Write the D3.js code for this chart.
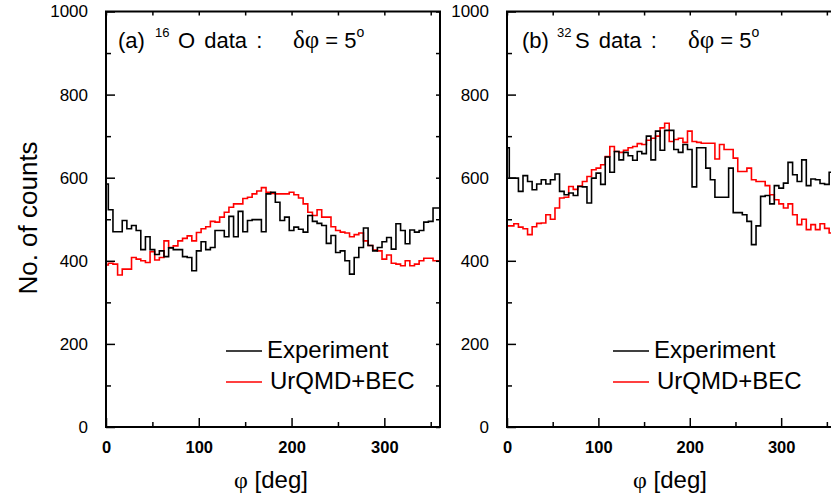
<!DOCTYPE html>
<html>
<head>
<meta charset="utf-8">
<script src="https://cdn.jsdelivr.net/npm/d3@7"></script>
<style>
	body { margin: 0; background: #fff; }
	svg text { font-family: "Liberation Sans", Arial, sans-serif; fill: #000; }
	.xlab { font-weight: bold; font-size: 16.5px; }
	.ylab { font-size: 17px; }
	.serif { font-family: "Liberation Serif", "Times New Roman", serif; }
</style>
</head>
<body>
<div id="chart"></div>
<script>
// azimuthal bins, 5 deg wide, centred on 0,5,...,360
const bin_width = 5;
const phi = d3.range(0, 360 + bin_width, bin_width);

// (a) 16O
const o16_exp = [585,523,470,470,497,477,485,473,427,458,
	427,415,424,410,431,427,427,410,408,376,
	424,446,427,432,473,473,458,507,458,519,
	470,497,499,499,470,561,565,541,497,505,
	473,481,476,469,509,495,490,485,442,461,
	420,424,400,368,408,432,479,437,424,432,
	446,456,428,489,473,441,474,469,473,493,
	495,527,527];
const o16_urqmd = [390,394,392,366,380,380,408,404,400,396,
	422,402,408,448,432,436,448,454,460,448,
	468,477,482,495,493,505,517,529,537,537,
	550,553,561,568,576,565,562,561,561,561,
	565,559,551,537,517,509,523,505,505,482,
	473,469,467,458,463,467,448,437,426,424,
	404,414,394,392,388,400,388,392,400,406,
	406,400,400];

// (b) 32S
const s32_exp = [672,599,599,567,605,591,571,585,595,585,
	595,609,567,559,563,557,579,578,539,599,
	611,584,650,613,663,643,661,653,642,663,
	658,700,643,712,666,714,714,668,661,680,
	668,578,672,672,623,595,553,553,553,623,
	516,516,511,495,439,484,555,557,537,581,
	575,587,637,607,591,643,581,597,595,586,
	584,613,613];
const s32_urqmd = [484,484,489,481,477,463,482,490,491,511,
	500,527,551,553,579,572,580,591,603,619,
	623,631,651,675,663,661,666,672,675,682,
	680,690,695,700,720,731,687,692,695,685,
	712,687,685,683,683,683,645,680,668,668,
	647,615,615,623,595,591,591,581,559,547,
	537,527,537,511,487,500,475,487,475,489,
	478,467,467];

const x_major = [0, 100, 200, 300];
const x_minor = [50, 150, 250, 350];
const y_major = [0, 200, 400, 600, 800, 1000];
const y_minor = [100, 300, 500, 700, 900];
const series_names = ["Experiment", "UrQMD+BEC"];

const c_exp = '#000000',
	c_urqmd = '#ff0000';

const width = 831, height = 503;
const top_y = 11.5, bottom_y = 427;

const panels = [
	{ id: "a", left: 106, right: 440, label: "(a)", nucl: "16", elem: "O", exp: o16_exp, model: o16_urqmd,
		tx: [118, 155, 178, 293], xt: 271, leg_x: 226 },
	{ id: "b", left: 507, right: 836, label: "(b)", nucl: "32", elem: "S", exp: s32_exp, model: s32_urqmd,
		tx: [522, 557, 575, 688], xt: 670, leg_x: 613 }
];

let svg = d3.select("#chart")
	.append("svg")
	.attr("width", width)
	.attr("height", height);

let y = d3.scaleLinear()
	.domain([0, 1000])
	.range([bottom_y, top_y]);

panels.forEach(p => {
	let x = d3.scaleLinear()
		.domain([0, 360])
		.range([p.left, p.right]);

	let g = svg.append("g").attr("id", "panel_" + p.id);

	g.append("clipPath")
		.attr("id", "clip_" + p.id)
		.append("rect")
		.attr("x", p.left).attr("y", top_y)
		.attr("width", p.right - p.left).attr("height", bottom_y - top_y);

	// data
	let line = d3.line()
		.x((d, i) => x(phi[i]))
		.y(d => y(d))
		.curve(d3.curveStep);

	let plot = g.append("g").attr("clip-path", "url(#clip_" + p.id + ")");

	plot.append("path")
		.datum(p.model)
		.attr("d", line)
		.attr("fill", "none")
		.attr("stroke", c_urqmd)
		.attr("stroke-width", 1.6);

	plot.append("path")
		.datum(p.exp)
		.attr("d", line)
		.attr("fill", "none")
		.attr("stroke", c_exp)
		.attr("stroke-width", 1.6);

	// axes (ticks inside)
	function tidy(sel) {
		sel.select(".domain").remove();
		sel.selectAll(".tick line").attr("stroke", "#000").attr("stroke-width", 1.5);
	}

	g.append("g")
		.attr("transform", "translate(0," + bottom_y + ")")
		.call(d3.axisBottom(x).tickValues(x_major).tickSize(-9).tickFormat(d3.format("d")))
		.call(tidy)
		.selectAll("text").attr("class", "xlab").attr("dy", 0).attr("y", 26);

	g.append("g")
		.attr("transform", "translate(0," + bottom_y + ")")
		.call(d3.axisBottom(x).tickValues(x_minor).tickSize(-5).tickFormat(""))
		.call(tidy);

	g.append("g")
		.attr("transform", "translate(0," + top_y + ")")
		.call(d3.axisTop(x).tickValues(x_major.concat(x_minor)).tickSize(-4).tickFormat(""))
		.call(tidy);

	g.append("g")
		.attr("transform", "translate(" + p.left + ",0)")
		.call(d3.axisLeft(y).tickValues(y_major).tickSize(-9).tickPadding(18).tickFormat(d3.format("d")))
		.call(tidy)
		.selectAll("text").attr("class", "ylab");

	g.append("g")
		.attr("transform", "translate(" + p.left + ",0)")
		.call(d3.axisLeft(y).tickValues(y_minor).tickSize(-5).tickFormat(""))
		.call(tidy);

	g.append("g")
		.attr("transform", "translate(" + p.right + ",0)")
		.call(d3.axisRight(y).tickValues(y_major.concat(y_minor)).tickSize(-4).tickFormat(""))
		.call(tidy);

	// frame
	g.append("rect")
		.attr("x", p.left).attr("y", top_y)
		.attr("width", p.right - p.left).attr("height", bottom_y - top_y)
		.attr("fill", "none")
		.attr("stroke", "#000")
		.attr("stroke-width", 2);

	// x title
	let xt = g.append("text")
		.attr("x", p.xt)
		.attr("y", 488)
		.attr("text-anchor", "middle")
		.style("font-size", "24px");
	xt.append("tspan").attr("class", "serif").text("φ");
	xt.append("tspan").text(" [deg]");

	// panel title
	let t = g.append("text")
		.attr("y", 48)
		.style("font-size", "22px");
	t.append("tspan").attr("x", p.tx[0]).text(p.label);
	t.append("tspan").attr("x", p.tx[1]).attr("font-size", 13).attr("dy", -11).text(p.nucl);
	t.append("tspan").attr("x", p.tx[2]).attr("dy", 11).attr("word-spacing", 3).text(p.elem + " data :");

	let d = g.append("text")
		.attr("x", p.tx[3])
		.attr("y", 48)
		.style("font-size", "22px");
	d.append("tspan").attr("class", "serif").attr("font-size", 25).text("δφ");
	d.append("tspan").text(" = 5");
	d.append("tspan").attr("font-size", 14).attr("dy", -11).text("o");

	// legend
	let colors = [c_exp, c_urqmd];
	series_names.forEach((name, i) => {
		let ly = 351 + i * 31;
		g.append("line")
			.attr("x1", p.leg_x).attr("x2", p.leg_x + 36)
			.attr("y1", ly).attr("y2", ly)
			.attr("stroke", colors[i])
			.attr("stroke-width", 1.6);
		g.append("text")
			.attr("x", p.leg_x + 41 + i * 3)
			.attr("y", ly + 7)
			.style("font-size", "24px")
			.text(name);
	});
});

// y title
svg.append("text")
	.attr("transform", "translate(37,218) rotate(-90)")
	.attr("text-anchor", "middle")
	.style("font-size", "26px")
	.text("No. of counts");
</script>
</body>
</html>
